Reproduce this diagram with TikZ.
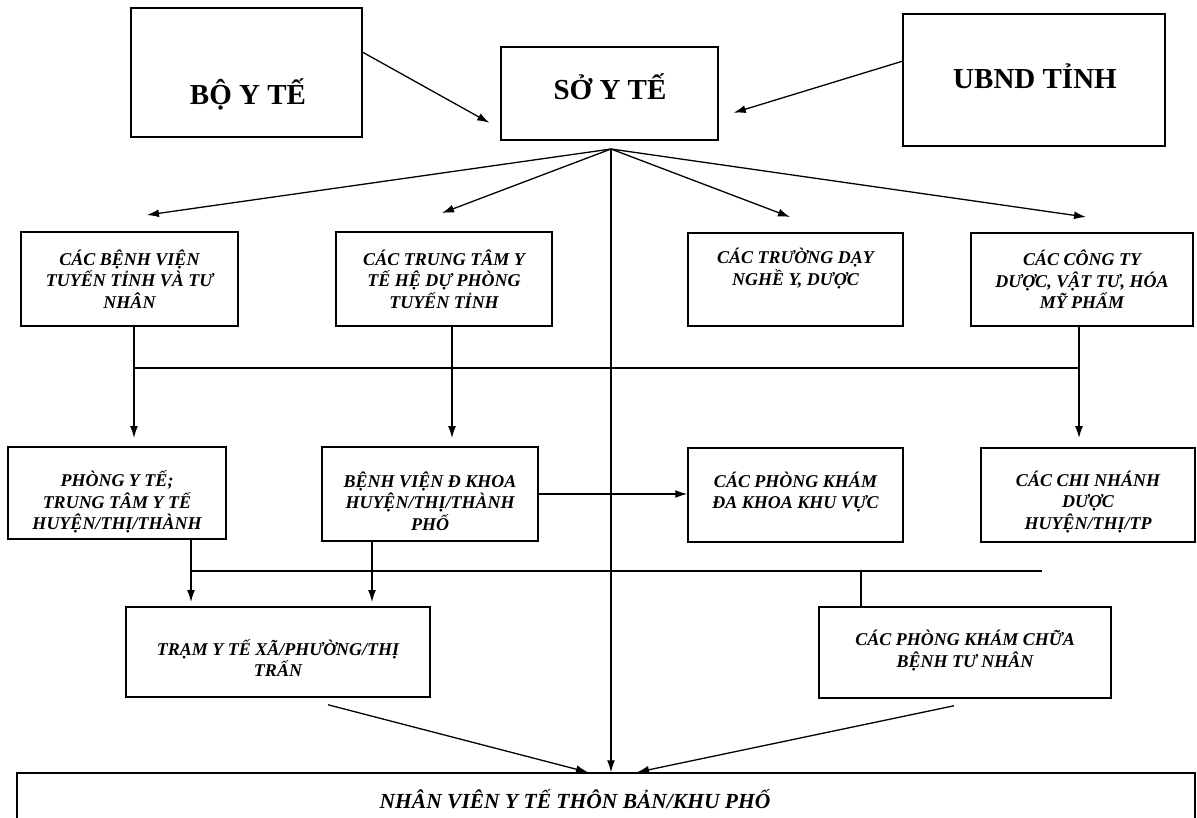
\documentclass[tikz,border=0pt]{standalone}
\usepackage{fontspec}
\setmainfont{Liberation Serif}
\usetikzlibrary{arrows.meta}
\begin{document}
\begin{tikzpicture}[x=1pt,y=-1pt,
  box/.style={draw, line width=1.5pt, rectangle, inner sep=0pt},
  bigtxt/.style={font=\fontsize{29}{34}\selectfont\bfseries, inner sep=0pt, anchor=base},
  txt/.style={font=\fontsize{18}{21.5}\selectfont\bfseries\itshape, align=center, inner sep=0pt},
  btxt/.style={font=\fontsize{21.5}{25}\selectfont\bfseries\itshape, inner sep=0pt, anchor=base},
  ln/.style={line width=1.3pt},
  arr/.style={line width=1.3pt, -{Latex[length=12pt,width=8pt]}}]
\useasboundingbox (0,0) rectangle (1197,817);

% top level
\node[box, minimum width=231pt, minimum height=129pt] (bo) at (246.5,72.5) {};
\node[bigtxt] (bot) at (248,104) {BỘ Y TẾ};
\node[box, minimum width=217pt, minimum height=93pt] (so) at (609.5,93.5) {};
\node[bigtxt] (sot) at (610,99) {SỞ Y TẾ};
\node[box, minimum width=262pt, minimum height=132pt] (ub) at (1034,80) {};
\node[bigtxt] (ubt) at (1035,88) {UBND TỈNH};

% row 1
\node[box, minimum width=217pt, minimum height=94pt] (b1) at (129.5,279) {};
\node[txt] (b1t) at (b1.center) {CÁC BỆNH VIỆN\\TUYẾN TỈNH VÀ TƯ\\NHÂN};
\node[box, minimum width=216pt, minimum height=94pt] (b2) at (444,279) {};
\node[txt] (b2t) at (b2.center) {CÁC TRUNG TÂM Y\\TẾ HỆ DỰ PHÒNG\\TUYẾN TỈNH};
\node[box, minimum width=215pt, minimum height=93pt] (b3) at (795.5,279.5) {};
\node[txt] (b3t) at ([yshift=11pt]b3.center) {CÁC TRƯỜNG DẠY\\NGHỀ Y, DƯỢC};
\node[box, minimum width=222pt, minimum height=93pt] (b4) at (1082,279.5) {};
\node[txt] (b4t) at (b4.center) {CÁC CÔNG TY\\DƯỢC, VẬT TƯ, HÓA\\MỸ PHẨM};

% row 2
\node[box, minimum width=218pt, minimum height=92pt] (p1) at (117,493) {};
\node[txt] (p1t) at ([yshift=-9pt]p1.center) {PHÒNG Y TẾ;\\TRUNG TÂM Y TẾ\\HUYỆN/THỊ/THÀNH};
\node[box, minimum width=216pt, minimum height=94pt] (p2) at (430,494) {};
\node[txt] (p2t) at ([yshift=-7pt]p2.center) {BỆNH VIỆN Đ KHOA\\HUYỆN/THỊ/THÀNH\\PHỐ};
\node[box, minimum width=215pt, minimum height=94pt] (p3) at (795.5,495) {};
\node[txt] (p3t) at ([yshift=3pt]p3.center) {CÁC PHÒNG KHÁM\\ĐA KHOA KHU VỰC};
\node[box, minimum width=214pt, minimum height=94pt] (p4) at (1088,495) {};
\node[txt] (p4t) at ([yshift=-7pt]p4.center) {CÁC CHI NHÁNH\\DƯỢC\\HUYỆN/THỊ/TP};

% row 3
\node[box, minimum width=304pt, minimum height=90pt] (r1) at (278,652) {};
\node[txt] (r1t) at ([yshift=-6pt]r1.center) {TRẠM Y TẾ XÃ/PHƯỜNG/THỊ\\TRẤN};
\node[box, minimum width=292pt, minimum height=91pt] (r2) at (965,652.5) {};
\node[txt] (r2t) at ([yshift=2pt]r2.center) {CÁC PHÒNG KHÁM CHỮA\\BỆNH TƯ NHÂN};

% bottom
\node[box, minimum width=1178pt, minimum height=67pt] (nv) at (606,806.5) {};
\node[btxt] (nvt) at (575,808) {NHÂN VIÊN Y TẾ THÔN BẢN/KHU PHỐ};

% top arrows
\draw[arr] ([yshift=-45pt]bo.north east) -- ([xshift=-11pt,yshift=18pt]so.south west);
\draw[arr] ([yshift=-48pt]ub.north west) -- ([xshift=15pt,yshift=28pt]so.south east);

% fan out
\coordinate (fan) at (611,149);
\coordinate (t1) at (147,215);
\coordinate (t2) at (442,213);
\coordinate (t3) at (790,217);
\coordinate (t4) at (1086,217);
\draw[arr] (fan) -- (t1);
\draw[arr] (fan) -- (t2);
\draw[arr] (fan) -- (t3);
\draw[arr] (fan) -- (t4);
\draw[arr] (fan) -- (fan |- nv.north);

% row1 -> row2
\coordinate (a1) at (134,438);
\coordinate (a2) at (452,438);
\coordinate (a4) at (1079,438);
\coordinate (h1l) at (134,368);
\coordinate (h1r) at (1079,368);
\draw[arr] (b1.south -| a1) -- (a1);
\draw[arr] (b2.south -| a2) -- (a2);
\draw[arr] (b4.south -| a4) -- (a4);
\draw[ln] (h1l) -- (h1r);

% row2
\draw[arr] (p2.east) -- (p3.west |- p2.east);
\coordinate (c1) at (191,602);
\coordinate (c2) at (372,602);
\coordinate (h2l) at (191,571);
\coordinate (h2r) at (1042,571);
\coordinate (h2m) at (861,571);
\draw[arr] (p1.south -| c1) -- (c1);
\draw[arr] (p2.south -| c2) -- (c2);
\draw[ln] (h2l) -- (h2r);
\draw[ln] (h2m) -- (h2m |- r2.north);

% to bottom
\draw[arr] ([xshift=50pt,yshift=-7pt]r1.south) -- ([xshift=-18pt]nv.north);
\draw[arr] ([xshift=-11pt,yshift=-7pt]r2.south) -- ([xshift=31pt]nv.north);
\end{tikzpicture}
\end{document}
